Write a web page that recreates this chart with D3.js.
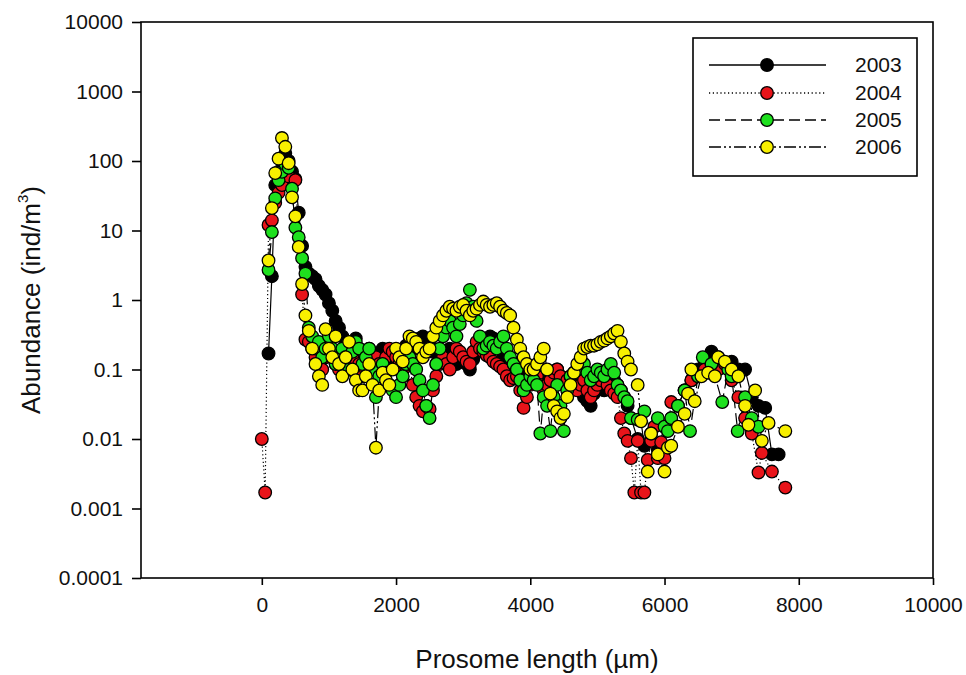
<!DOCTYPE html>
<html>
<head>
<meta charset="utf-8">
<script src="https://cdn.jsdelivr.net/npm/d3@7"></script>
<style>
  html, body { margin: 0; padding: 0; background: #fff; }
  svg { display: block; }
  text { font-family: "Liberation Sans", Arial, sans-serif; fill: #111; }
</style>
</head>
<body>
<svg id="chart" width="966" height="675"></svg>
<script>
// ---------------- data ----------------
const years = ["2003", "2004", "2005", "2006"];
const xTicks = [0, 2000, 4000, 6000, 8000, 10000];
const yTicks = [0.0001, 0.001, 0.01, 0.1, 1, 10, 100, 1000, 10000];
const yTickLabels = ["0.0001", "0.001", "0.01", "0.1", "1", "10", "100", "1000", "10000"];

// [prosome length (µm), abundance (ind/m3)]
const s2003 = [[100,0.17],[150,2.2],[200,45],[250,70],[300,110],[350,130],[400,100],[450,70],[500,55],[550,18],[600,6],[650,3],[700,2.4],[750,2.2],[800,2.0],[850,1.6],[900,1.4],[950,1.2],[1000,0.9],[1050,0.7],[1100,0.5],[1150,0.4],[1200,0.3],[1250,0.22],[1300,0.2],[1350,0.18],[1400,0.28],[1450,0.2],[1500,0.15],[1550,0.13],[1600,0.2],[1650,0.16],[1700,0.12],[1750,0.15],[1800,0.2],[1850,0.18],[1900,0.15],[1950,0.13],[2000,0.12],[2050,0.15],[2100,0.18],[2150,0.22],[2200,0.25],[2250,0.24],[2300,0.2],[2350,0.28],[2400,0.3],[2450,0.27],[2500,0.25],[2550,0.18],[2600,0.12],[2650,0.13],[2700,0.15],[2750,0.17],[2800,0.2],[2850,0.16],[2900,0.12],[2950,0.13],[3000,0.15],[3050,0.12],[3100,0.1],[3150,0.14],[3200,0.2],[3250,0.2],[3300,0.22],[3350,0.26],[3400,0.3],[3450,0.28],[3500,0.25],[3550,0.2],[3600,0.15],[3650,0.13],[3700,0.12],[3750,0.1],[3800,0.08],[3850,0.09],[3900,0.1],[3950,0.08],[4000,0.07],[4050,0.08],[4100,0.09],[4150,0.07],[4200,0.06],[4250,0.07],[4300,0.08],[4350,0.09],[4400,0.1],[4450,0.08],[4500,0.07],[4550,0.06],[4600,0.05],[4650,0.055],[4700,0.06],[4750,0.05],[4800,0.04],[4850,0.035],[4900,0.03],[4950,0.045],[5000,0.06],[5050,0.055],[5100,0.05],[5150,0.065],[5200,0.08],[5250,0.07],[5300,0.06],[5350,0.05],[5400,0.04],[5450,0.03],[5500,0.02],[5600,0.01],[5700,0.008],[5800,0.01],[5900,0.007],[6000,0.015],[6100,0.02],[6200,0.03],[6300,0.05],[6400,0.07],[6500,0.1],[6600,0.12],[6700,0.18],[6800,0.15],[6900,0.12],[7000,0.13],[7100,0.1],[7200,0.1],[7300,0.04],[7400,0.03],[7500,0.028],[7600,0.006],[7700,0.006]];

const s2004 = [[0,0.01],[50,0.0017],[100,12],[150,14],[200,25],[250,35],[300,45],[400,60],[500,53],[600,1.2],[650,0.27],[700,0.25],[750,0.2],[800,0.15],[850,0.12],[900,0.1],[950,0.15],[1000,0.2],[1050,0.15],[1100,0.12],[1150,0.1],[1200,0.15],[1250,0.12],[1300,0.1],[1350,0.15],[1400,0.2],[1450,0.12],[1500,0.08],[1550,0.1],[1600,0.12],[1650,0.13],[1700,0.15],[1750,0.12],[1800,0.1],[1850,0.15],[1900,0.2],[1950,0.18],[2000,0.15],[2050,0.12],[2100,0.1],[2150,0.11],[2200,0.12],[2250,0.06],[2300,0.04],[2350,0.03],[2400,0.025],[2450,0.03],[2500,0.027],[2550,0.05],[2600,0.08],[2650,0.12],[2700,0.15],[2750,0.12],[2800,0.1],[2850,0.15],[2900,0.2],[2950,0.18],[3000,0.15],[3050,0.13],[3100,0.12],[3150,0.18],[3200,0.25],[3250,0.2],[3300,0.18],[3350,0.16],[3400,0.15],[3450,0.13],[3500,0.12],[3550,0.11],[3600,0.1],[3650,0.08],[3700,0.07],[3750,0.075],[3800,0.08],[3850,0.05],[3900,0.028],[3950,0.04],[4000,0.06],[4050,0.07],[4100,0.08],[4150,0.06],[4200,0.05],[4250,0.06],[4300,0.07],[4350,0.09],[4400,0.1],[4450,0.08],[4500,0.06],[4550,0.07],[4600,0.08],[4650,0.06],[4700,0.05],[4750,0.06],[4800,0.07],[4850,0.05],[4900,0.04],[4950,0.05],[5000,0.06],[5050,0.07],[5100,0.08],[5150,0.06],[5200,0.05],[5250,0.045],[5300,0.04],[5350,0.02],[5400,0.012],[5450,0.0094],[5500,0.0053],[5550,0.0017],[5600,0.0094],[5650,0.0017],[5700,0.0017],[5750,0.005],[5800,0.0094],[5850,0.015],[5900,0.0053],[5950,0.009],[6000,0.0053],[6100,0.034],[6200,0.03],[6300,0.05],[6400,0.07],[6500,0.08],[6600,0.1],[6700,0.12],[6800,0.1],[6900,0.12],[7000,0.07],[7100,0.04],[7200,0.02],[7300,0.012],[7400,0.0033],[7450,0.0063],[7600,0.0034],[7800,0.002]];

const s2005 = [[100,2.7],[150,9.5],[200,29],[250,53],[300,70],[350,90],[400,80],[450,40],[500,11],[550,8],[600,4],[650,2.4],[700,0.4],[750,0.3],[800,0.2],[850,0.25],[900,0.15],[950,0.2],[1000,0.3],[1050,0.2],[1100,0.12],[1150,0.15],[1200,0.2],[1250,0.15],[1300,0.1],[1350,0.18],[1400,0.25],[1450,0.2],[1500,0.12],[1550,0.15],[1600,0.2],[1650,0.1],[1700,0.04],[1750,0.08],[1800,0.12],[1850,0.09],[1900,0.06],[1950,0.05],[2000,0.04],[2050,0.06],[2100,0.08],[2150,0.12],[2200,0.15],[2250,0.12],[2300,0.1],[2350,0.07],[2400,0.05],[2450,0.03],[2500,0.02],[2550,0.06],[2600,0.12],[2650,0.2],[2700,0.3],[2750,0.4],[2800,0.5],[2850,0.4],[2900,0.3],[2950,0.45],[3000,0.6],[3050,0.9],[3100,1.4],[3150,0.8],[3200,0.5],[3250,0.3],[3300,0.2],[3350,0.22],[3400,0.25],[3450,0.22],[3500,0.2],[3550,0.25],[3600,0.3],[3650,0.2],[3700,0.15],[3750,0.12],[3800,0.1],[3850,0.07],[3900,0.05],[3950,0.06],[4000,0.08],[4050,0.07],[4100,0.06],[4150,0.012],[4200,0.04],[4250,0.03],[4300,0.013],[4350,0.04],[4400,0.06],[4450,0.03],[4500,0.013],[4550,0.05],[4600,0.08],[4650,0.09],[4700,0.1],[4750,0.11],[4800,0.12],[4850,0.09],[4900,0.07],[4950,0.08],[5000,0.1],[5050,0.09],[5100,0.08],[5150,0.1],[5200,0.12],[5250,0.09],[5300,0.06],[5350,0.05],[5400,0.04],[5450,0.035],[5500,0.02],[5600,0.019],[5700,0.025],[5800,0.012],[5900,0.02],[6000,0.015],[6050,0.013],[6100,0.02],[6200,0.03],[6300,0.05],[6380,0.013],[6500,0.08],[6570,0.15],[6700,0.12],[6860,0.034],[6950,0.1],[7000,0.08],[7090,0.013],[7200,0.04],[7300,0.02],[7400,0.015]];

const s2006 = [[100,3.7],[150,21],[200,67],[250,108],[300,214],[350,160],[400,93],[450,30],[500,16],[550,5.8],[600,1.7],[650,0.6],[700,0.36],[750,0.2],[800,0.12],[850,0.08],[900,0.06],[950,0.38],[1000,0.2],[1050,0.15],[1100,0.3],[1150,0.12],[1200,0.08],[1250,0.15],[1300,0.25],[1350,0.1],[1400,0.07],[1450,0.05],[1500,0.05],[1550,0.08],[1600,0.12],[1650,0.06],[1700,0.0075],[1750,0.05],[1800,0.09],[1850,0.07],[1900,0.06],[1950,0.1],[2000,0.2],[2050,0.15],[2100,0.13],[2150,0.2],[2200,0.3],[2250,0.28],[2300,0.25],[2350,0.2],[2400,0.15],[2450,0.18],[2500,0.2],[2550,0.3],[2600,0.4],[2650,0.5],[2700,0.6],[2750,0.7],[2800,0.8],[2850,0.75],[2900,0.7],[2950,0.8],[3000,0.85],[3050,0.7],[3100,0.6],[3150,0.7],[3200,0.75],[3250,0.85],[3300,0.95],[3350,0.85],[3400,0.8],[3450,0.85],[3500,0.9],[3550,0.8],[3600,0.7],[3650,0.65],[3700,0.6],[3750,0.4],[3800,0.27],[3850,0.2],[3900,0.15],[3950,0.12],[4000,0.1],[4050,0.1],[4100,0.12],[4150,0.15],[4200,0.2],[4250,0.1],[4300,0.045],[4350,0.03],[4400,0.025],[4450,0.02],[4500,0.023],[4550,0.04],[4600,0.06],[4650,0.09],[4700,0.12],[4750,0.15],[4800,0.2],[4850,0.21],[4900,0.22],[4950,0.22],[5000,0.23],[5050,0.25],[5100,0.26],[5150,0.28],[5200,0.3],[5250,0.33],[5300,0.36],[5350,0.25],[5400,0.17],[5450,0.13],[5500,0.1],[5600,0.06],[5650,0.018],[5750,0.0034],[5800,0.012],[5900,0.006],[6000,0.0034],[6050,0.0075],[6100,0.008],[6200,0.015],[6300,0.023],[6350,0.045],[6400,0.1],[6450,0.035],[6550,0.08],[6650,0.09],[6750,0.08],[6800,0.15],[6900,0.13],[7000,0.1],[7100,0.08],[7200,0.03],[7250,0.016],[7350,0.05],[7450,0.0094],[7550,0.017],[7800,0.013]];

const seriesData = [s2003, s2004, s2005, s2006];
const fills = ["#000000", "#e8141a", "#1ee01e", "#f8f000"];
const dashes = [null, "1.2,2.6", "11,5", "12,3,2,3,2,3"];

// ---------------- layout ----------------
const svg = d3.select("#chart");
const L = 141, R = 933, T = 22, B = 578;
const x = d3.scaleLinear().domain([-1800, 10000]).range([L, R]);
const y = d3.scaleLog().domain([0.0001, 10000]).range([B, T]);

svg.append("rect").attr("x", L).attr("y", T).attr("width", R - L).attr("height", B - T)
  .attr("fill", "none").attr("stroke", "#000").attr("stroke-width", 1.6);

const yAxis = d3.axisLeft(y).tickValues(yTicks).tickSize(9).tickPadding(9)
  .tickFormat((d, i) => yTickLabels[i]);
const gy = svg.append("g").attr("transform", `translate(${L},0)`).call(yAxis);
gy.select(".domain").remove();
gy.selectAll("line").attr("stroke-width", 1.6);
gy.selectAll("text").attr("font-size", 21).attr("font-family", "Liberation Sans, Arial, sans-serif").attr("fill", "#111");

const xAxis = d3.axisBottom(x).tickValues(xTicks).tickSize(7).tickPadding(12).tickFormat(d3.format("d"));
const gx = svg.append("g").attr("transform", `translate(0,${B})`).call(xAxis);
gx.select(".domain").remove();
gx.selectAll("line").attr("stroke-width", 1.6);
gx.selectAll("text").attr("font-size", 21).attr("font-family", "Liberation Sans, Arial, sans-serif").attr("fill", "#111");

svg.append("text").attr("x", 537).attr("y", 668).attr("text-anchor", "middle")
  .attr("font-size", 26).text("Prosome length (\u00b5m)");
const yt = svg.append("text").attr("transform", "translate(40,300) rotate(-90)")
  .attr("text-anchor", "middle").attr("font-size", 26);
yt.append("tspan").text("Abundance (ind/m");
yt.append("tspan").attr("font-size", 15).attr("dy", -12).text("3");
yt.append("tspan").attr("dy", 12).text(")");

// series: lines first, then markers (2003 bottom ... 2006 top)
const plot = svg.append("g");
const line = d3.line().x(d => x(d[0])).y(d => y(d[1]));
seriesData.forEach((pts, k) => {
  const p = plot.append("path").datum(pts).attr("d", line)
    .attr("fill", "none").attr("stroke", "#000").attr("stroke-width", 1.2);
  if (dashes[k]) p.attr("stroke-dasharray", dashes[k]);
});
seriesData.forEach((pts, k) => {
  plot.append("g").selectAll("circle").data(pts).join("circle")
    .attr("cx", d => x(d[0])).attr("cy", d => y(d[1])).attr("r", 6.3)
    .attr("fill", fills[k]).attr("stroke", "#000").attr("stroke-width", 1.3);
});

// legend
const lg = svg.append("g");
lg.append("rect").attr("x", 693).attr("y", 38).attr("width", 224).attr("height", 138)
  .attr("fill", "#fff").attr("stroke", "#000").attr("stroke-width", 1.6);
const rowY = [65, 93, 120, 147];
years.forEach((yr, k) => {
  const ln = lg.append("line").attr("x1", 709).attr("x2", 826).attr("y1", rowY[k]).attr("y2", rowY[k])
    .attr("stroke", "#000").attr("stroke-width", 1.4);
  if (dashes[k]) ln.attr("stroke-dasharray", dashes[k]);
  lg.append("circle").attr("cx", 767).attr("cy", rowY[k]).attr("r", 6.3)
    .attr("fill", fills[k]).attr("stroke", "#000").attr("stroke-width", 1.3);
  lg.append("text").attr("x", 855).attr("y", rowY[k] + 7).attr("font-size", 21).text(yr);
});
</script>
</body>
</html>
